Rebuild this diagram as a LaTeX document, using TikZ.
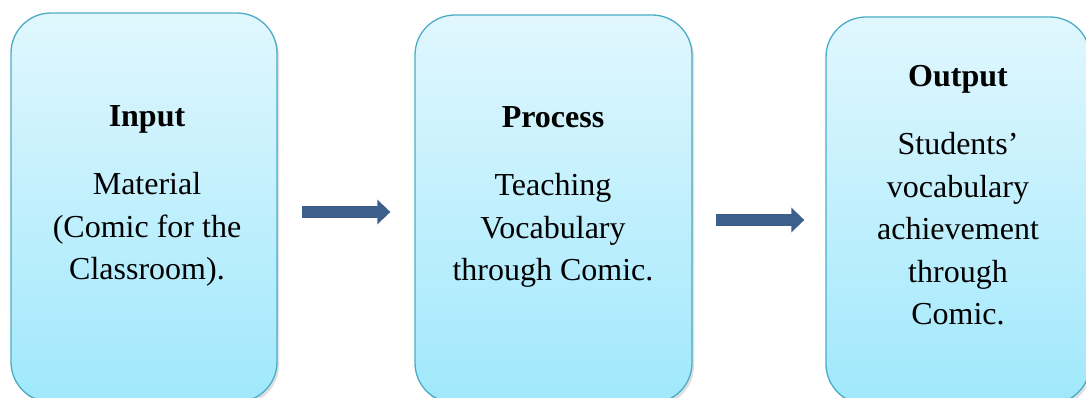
\documentclass[tikz,border=0pt]{standalone}
\usepackage{fontspec}
\setmainfont{Liberation Serif}
\usetikzlibrary{arrows.meta,shadows}

\definecolor{boxline}{RGB}{75,172,198}
\definecolor{boxtop}{RGB}{225,247,254}
\definecolor{boxbottom}{RGB}{160,232,252}
\definecolor{flowblue}{RGB}{60,95,140}

\tikzset{
  stage/.style={draw=boxline, line width=1.3pt, rounded corners=40pt,
    top color=boxtop, bottom color=boxbottom,
    drop shadow={shadow xshift=2pt, shadow yshift=-3pt, opacity=0.25}},
  stagetext/.style={align=center, anchor=north, inner sep=0pt,
    font=\fontsize{32}{42.5}\selectfont},
  flow/.style={draw=flowblue, line width=12pt,
    -{Triangle[length=13pt,width=24pt]}}
}

\begin{document}
\begin{tikzpicture}[x=1pt, y=1pt]
  \useasboundingbox (0,0) rectangle (1086,-398);

  % the three boxes
  \node[stage, minimum width=266pt, minimum height=389pt] (inbox) at (144,-207.5) {};
  \node[stage, minimum width=277pt, minimum height=388pt] (procbox) at (553.5,-209) {};
  \node[stage, minimum width=264pt, minimum height=387pt] (outbox) at (958,-210.5) {};

  % texts
  \node[stagetext] (intext) at (147,-105) {\textbf{Input}\\[26pt]Material\\(Comic for the\\Classroom).};
  \node[stagetext] (proctext) at (553,-106) {\textbf{Process}\\[26pt]Teaching\\Vocabulary\\through Comic.};
  \node[stagetext] (outtext) at (958,-65) {\textbf{Output}\\[26pt]Students’\\vocabulary\\achievement\\through\\Comic.};

  % arrows
  \draw[flow] ([xshift=24pt,yshift=-4.5pt]inbox.east) -- ([xshift=-24pt,yshift=-3pt]procbox.west);
  \draw[flow] ([xshift=23pt,yshift=-11pt]procbox.east) -- ([xshift=-21pt,yshift=-9.5pt]outbox.west);
\end{tikzpicture}
\end{document}
